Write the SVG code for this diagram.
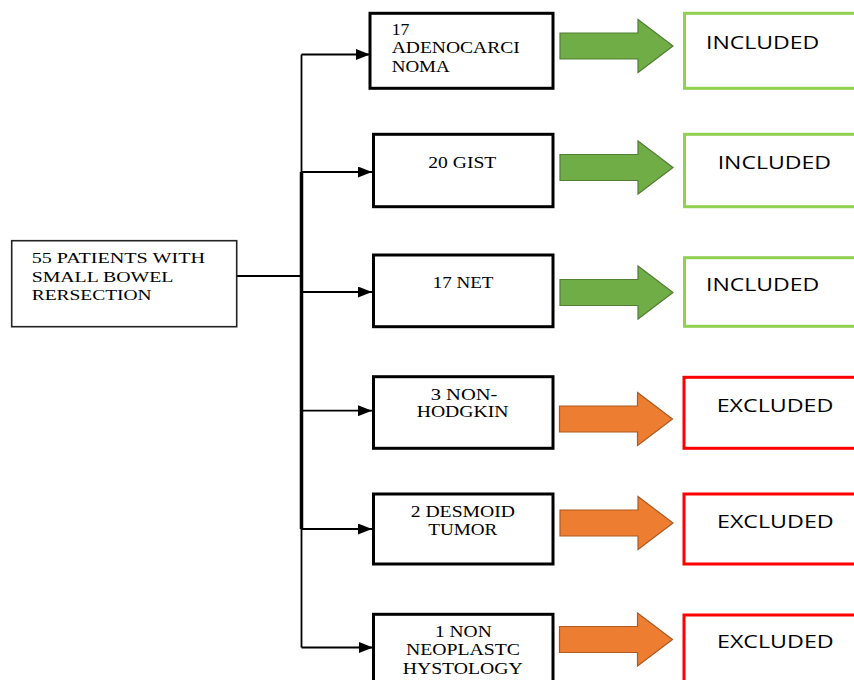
<svg xmlns="http://www.w3.org/2000/svg" xmlns:xlink="http://www.w3.org/1999/xlink" width="854" height="680" viewBox="0 0 854 680">
<style>
.src{fill:#fff;stroke:#222;stroke-width:1.6}
.mid{fill:#fff;stroke:#000;stroke-width:3}
.inc{fill:#fff;stroke:#92D050;stroke-width:3}
.exc{fill:#fff;stroke:#FF0000;stroke-width:3}
.tm{font-family:"Liberation Serif","Times New Roman",serif;font-size:16px;fill:#000}
.ts{font-family:"Liberation Serif","Times New Roman",serif;font-size:15px;fill:#000}
.ta{font-family:"Open Sans","Liberation Sans",sans-serif;font-size:18px;fill:#000}
.te{font-family:"Open Sans","Liberation Sans",sans-serif;font-size:19px;fill:#000}
.ln{fill:none;stroke:#000;stroke-width:1.8}
.garr{fill:#70AD47;stroke:#507E32;stroke-width:1.2}
.oarr{fill:#ED7D31;stroke:#AE5A21;stroke-width:1.2}
</style>
<defs>
<marker id="ah" markerUnits="userSpaceOnUse" markerWidth="14" markerHeight="11" refX="14" refY="5.5" orient="auto">
<path d="M0,0 L14,5.5 L0,11 Z" fill="#000"/>
</marker>
<path id="blk" d="M0,-13 H78 V-26.5 L113,0 L78,26.5 V13 H0 Z"/>
</defs>
<rect width="854" height="680" fill="#fff"/>

<g id="connectors">
<path class="ln" d="M237,276 H301.5"/>
<path class="ln" d="M301.5,54.5 V647.5"/>
<path d="M301.5,172 V529" fill="none" stroke="#000" stroke-width="3.5"/>
<path class="ln" d="M301.5,54.5 H370" marker-end="url(#ah)"/>
<path class="ln" d="M301.5,172 H372" marker-end="url(#ah)"/>
<path class="ln" d="M301.5,292 H372" marker-end="url(#ah)"/>
<path class="ln" d="M301.5,410.7 H372" marker-end="url(#ah)"/>
<path class="ln" d="M301.5,529 H372" marker-end="url(#ah)"/>
<path class="ln" d="M301.5,647.5 H373" marker-end="url(#ah)"/>
<use xlink:href="#blk" class="garr" transform="translate(560,46)"/>
<use xlink:href="#blk" class="garr" transform="translate(560,167.5)"/>
<use xlink:href="#blk" class="garr" transform="translate(560,292.5)"/>
<use xlink:href="#blk" class="oarr" transform="translate(559.5,419)"/>
<use xlink:href="#blk" class="oarr" transform="translate(560,523)"/>
<use xlink:href="#blk" class="oarr" transform="translate(559.5,639.5)"/>
</g>

<g id="source">
<rect class="src" x="11.7" y="240.7" width="225" height="86"/>
<text class="ts" x="31.7" y="262.7" textLength="173.3" lengthAdjust="spacingAndGlyphs">55 PATIENTS WITH</text>
<text class="ts" x="31.7" y="281.7" textLength="141.7" lengthAdjust="spacingAndGlyphs">SMALL BOWEL</text>
<text class="ts" x="31.7" y="300" textLength="120" lengthAdjust="spacingAndGlyphs">RERSECTION</text>
</g>

<g id="adenocarcinoma">
<rect class="mid" x="370" y="13.3" width="183" height="75"/>
<text class="tm" x="391.7" y="35" textLength="17.7" lengthAdjust="spacingAndGlyphs">17</text>
<text class="tm" x="391.7" y="53.3" textLength="128" lengthAdjust="spacingAndGlyphs">ADENOCARCI</text>
<text class="tm" x="391.7" y="71.7" textLength="58" lengthAdjust="spacingAndGlyphs">NOMA</text>
</g>
<g id="gist">
<rect class="mid" x="373.5" y="134.3" width="179.5" height="72.4"/>
<text class="tm" x="428.3" y="167.7" textLength="68" lengthAdjust="spacingAndGlyphs">20 GIST</text>
</g>
<g id="net">
<rect class="mid" x="373.5" y="255" width="179.5" height="71.7"/>
<text class="tm" x="432.7" y="288.3" textLength="60.7" lengthAdjust="spacingAndGlyphs">17 NET</text>
</g>
<g id="nonhodgkin">
<rect class="mid" x="373.5" y="376.7" width="179.5" height="71.6"/>
<text class="tm" x="430.7" y="400" textLength="66.7" lengthAdjust="spacingAndGlyphs">3 NON-</text>
<text class="tm" x="416.7" y="417.3" textLength="91.7" lengthAdjust="spacingAndGlyphs">HODGKIN</text>
</g>
<g id="desmoid">
<rect class="mid" x="373.5" y="494" width="179.5" height="70"/>
<text class="tm" x="410.7" y="517.3" textLength="104.3" lengthAdjust="spacingAndGlyphs">2 DESMOID</text>
<text class="tm" x="428.3" y="535" textLength="69" lengthAdjust="spacingAndGlyphs">TUMOR</text>
</g>
<g id="nonneoplastic">
<rect class="mid" x="373.5" y="614.3" width="179.5" height="80"/>
<text class="tm" x="435" y="636.7" textLength="56.7" lengthAdjust="spacingAndGlyphs">1 NON</text>
<text class="tm" x="406" y="655" textLength="114" lengthAdjust="spacingAndGlyphs">NEOPLASTC</text>
<text class="tm" x="402.7" y="674" textLength="120" lengthAdjust="spacingAndGlyphs">HYSTOLOGY</text>
</g>

<g id="included1">
<rect class="inc" x="684.5" y="13.3" width="200" height="75"/>
<text class="ta" x="706" y="49.3" textLength="113.3" lengthAdjust="spacingAndGlyphs">INCLUDED</text>
</g>
<g id="included2">
<rect class="inc" x="684.5" y="134.3" width="200" height="72.4"/>
<text class="ta" x="717.7" y="168.7" textLength="113.3" lengthAdjust="spacingAndGlyphs">INCLUDED</text>
</g>
<g id="included3">
<rect class="inc" x="684.5" y="257.7" width="200" height="68.6"/>
<text class="ta" x="706" y="291" textLength="113.3" lengthAdjust="spacingAndGlyphs">INCLUDED</text>
</g>
<g id="excluded1">
<rect class="exc" x="684" y="377.3" width="200" height="71"/>
<text class="te" x="716.7" y="412.3" textLength="116.7" lengthAdjust="spacingAndGlyphs">EXCLUDED</text>
</g>
<g id="excluded2">
<rect class="exc" x="684" y="494" width="200" height="70"/>
<text class="te" x="717" y="528.3" textLength="116.7" lengthAdjust="spacingAndGlyphs">EXCLUDED</text>
</g>
<g id="excluded3">
<rect class="exc" x="684" y="615" width="200" height="80"/>
<text class="te" x="717" y="647.7" textLength="116.7" lengthAdjust="spacingAndGlyphs">EXCLUDED</text>
</g>
</svg>
